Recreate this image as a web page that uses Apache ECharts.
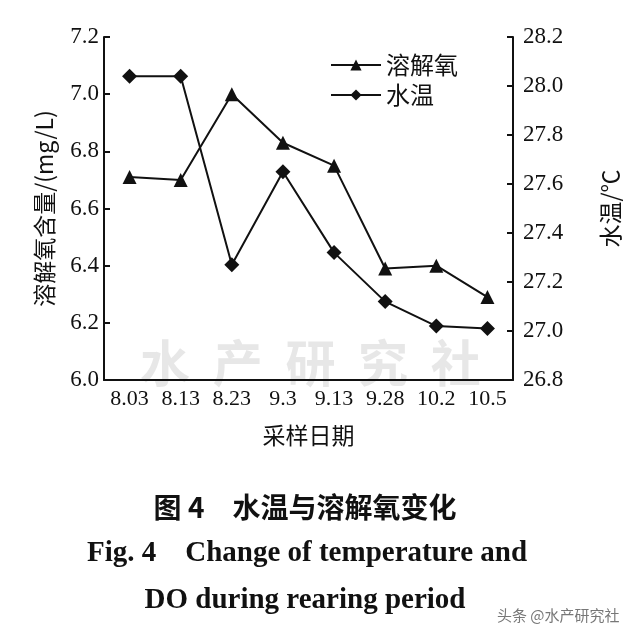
<!DOCTYPE html>
<html>
<head>
<meta charset="utf-8">
<script src="https://cdn.jsdelivr.net/npm/echarts@6/dist/echarts.min.js"></script>
<style>html,body{margin:0;padding:0;background:#fff}#c{width:640px;height:638px}</style>
</head>
<body>
<div id="c"></div>
<script>
const categories = ['8.03', '8.13', '8.23', '9.3', '9.13', '9.28', '10.2', '10.5'];
const doValues = [6.71, 6.70, 7.00, 6.83, 6.75, 6.39, 6.40, 6.29];
const tempValues = [28.04, 28.04, 27.27, 27.65, 27.32, 27.12, 27.02, 27.01];
const seriesNames = ['溶解氧', '水温'];

const chart = echarts.init(document.getElementById('c'), null, {renderer: 'canvas'});
const serif = '"Liberation Serif", "DejaVu Serif", serif';
const cjk = '"Noto Sans CJK SC", sans-serif';
const option = {
  backgroundColor: '#fff',
  animation: false,
  title: [
    {text: '图 4　水温与溶解氧变化', left: 300, textAlign: 'center', top: 488, textStyle: {fontFamily: cjk, fontSize: 28, fontWeight: 'bold', color: '#111'}},
    {text: 'Fig. 4　Change of temperature and', left: 302, textAlign: 'center', top: 534, textStyle: {fontFamily: serif, fontSize: 29, fontWeight: 'bold', color: '#111'}},
    {text: 'DO during rearing period', left: 300, textAlign: 'center', top: 581, textStyle: {fontFamily: serif, fontSize: 29, fontWeight: 'bold', color: '#111'}},
    {text: '头条 @水产研究社', left: 492, top: 603, textStyle: {fontFamily: cjk, fontSize: 15, fontWeight: 'normal', color: '#777'}}
  ],
  graphic: [
    {type: 'text', left: 140, top: 338, z: -1, silent: true,
     style: {text: '水  产  研  究  社', fontFamily: cjk, fontSize: 50, fontWeight: 'bold', fill: 'rgba(170,170,170,0.28)'}}
  ],
  legend: {
    orient: 'vertical', left: 325, top: 48, itemWidth: 50, itemHeight: 14, itemGap: 6,
    textStyle: {fontFamily: cjk, fontSize: 24, color: '#111'},
    data: seriesNames
  },
  grid: {left: 104, right: 127, top: 37, bottom: 258, containLabel: false},
  xAxis: {
    type: 'category', data: categories, boundaryGap: true,
    name: '采样日期', nameLocation: 'middle', nameGap: 44,
    nameTextStyle: {fontFamily: cjk, fontSize: 23, color: '#111'},
    axisLine: {lineStyle: {color: '#111', width: 2}},
    axisTick: {inside: true, length: 6, lineStyle: {color: '#111', width: 2}},
    axisLabel: {fontFamily: serif, fontSize: 22, color: '#111', margin: 8, interval: 0}
  },
  yAxis: [
    {
      type: 'value', min: 6.0, max: 7.2, interval: 0.2, position: 'left',
      name: '溶解氧含量/(mg/L)', nameLocation: 'middle', nameGap: 48, nameRotate: 90,
      nameTextStyle: {fontFamily: cjk, fontSize: 23, color: '#111'},
      axisLine: {show: true, lineStyle: {color: '#111', width: 2}},
      axisTick: {show: true, inside: true, length: 6, lineStyle: {color: '#111', width: 2}},
      axisLabel: {fontFamily: serif, fontSize: 23, color: '#111', margin: 5, formatter: v => v.toFixed(1)},
      splitLine: {show: false}
    },
    {
      type: 'value', min: 26.8, max: 28.2, interval: 0.2, position: 'right',
      name: '水温/℃', nameLocation: 'middle', nameGap: 86, nameRotate: 90,
      nameTextStyle: {fontFamily: cjk, fontSize: 23, color: '#111'},
      axisLine: {show: true, lineStyle: {color: '#111', width: 2}},
      axisTick: {show: true, inside: true, length: 6, lineStyle: {color: '#111', width: 2}},
      axisLabel: {fontFamily: serif, fontSize: 23, color: '#111', margin: 10, formatter: v => v.toFixed(1)},
      splitLine: {show: false}
    }
  ],
  series: [
    {
      name: seriesNames[0], type: 'line', yAxisIndex: 0, data: doValues,
      symbol: 'triangle', symbolSize: 14,
      lineStyle: {color: '#111', width: 2}, itemStyle: {color: '#111'}
    },
    {
      name: seriesNames[1], type: 'line', yAxisIndex: 1, data: tempValues,
      symbol: 'diamond', symbolSize: 15,
      lineStyle: {color: '#111', width: 2}, itemStyle: {color: '#111'}
    }
  ]
};
chart.setOption(option);
</script>
</body>
</html>
